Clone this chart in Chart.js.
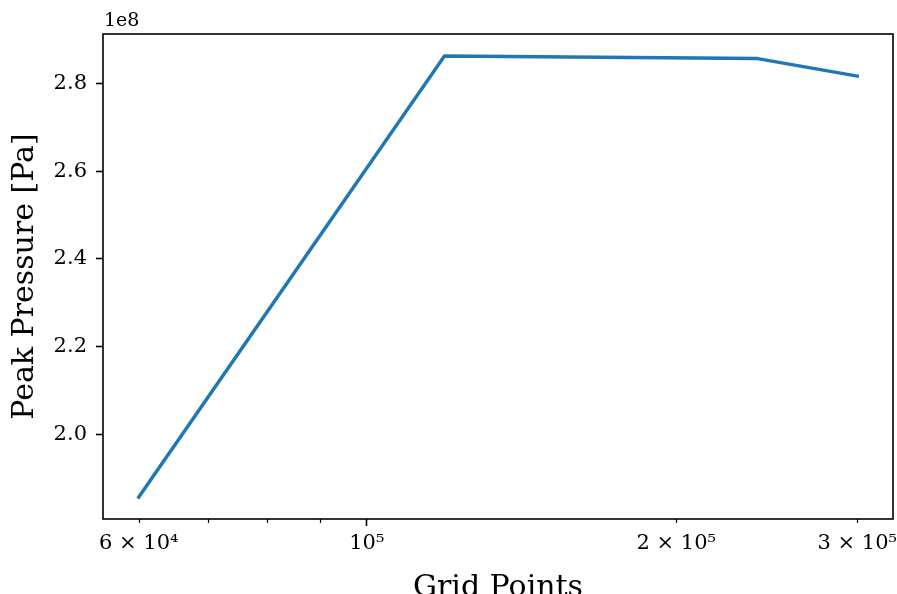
<!DOCTYPE html>
<html>
<head>
<meta charset="utf-8">
<script src="https://cdn.jsdelivr.net/npm/chart.js@4.4.1/dist/chart.umd.min.js"></script>
<style>
  html, body { margin: 0; padding: 0; background: #ffffff; }
  #wrap { width: 897px; height: 594px; overflow: hidden; }
  canvas { display: block; }
</style>
</head>
<body>
<div id="wrap"><canvas id="chart" width="897" height="594"></canvas></div>
<script>
// Grid-convergence study: peak pressure versus number of grid points
const gridPoints = [60000, 119000, 240000, 300000];
const peakPressure = [1.857e8, 2.863e8, 2.857e8, 2.817e8];

// Axis limits and ticks
const xLimits = [55380, 325000];
const yLimits = [1.807e8, 2.913e8];
const xMajorTicks = [100000];
const xMinorTicks = [60000, 70000, 80000, 90000, 200000, 300000];
const xTickLabels = { 60000: '6 × 10⁴', 100000: '10⁵', 200000: '2 × 10⁵', 300000: '3 × 10⁵' };
const yTicks = [2.0e8, 2.2e8, 2.4e8, 2.6e8, 2.8e8];
const yOffsetText = '1e8';
const xTitle = 'Grid Points';
const yTitle = 'Peak Pressure [Pa]';

const FONT = "'DejaVu Serif', 'Liberation Serif', serif";
const INK = '#000000';
const LINE = '#1f77b4';
const SPINE = 1.6;

// Frame, minor ticks and the scientific offset label
const framePlugin = {
  id: 'frame',
  afterDraw(chart) {
    const { ctx, chartArea: a, scales } = chart;
    ctx.save();
    ctx.strokeStyle = INK;
    ctx.lineWidth = SPINE;
    ctx.strokeRect(a.left, a.top, a.right - a.left, a.bottom - a.top);
    // short minor tick marks on the log axis
    ctx.lineWidth = 1.2;
    xMinorTicks.forEach(v => {
      const px = Math.round(scales.x.getPixelForValue(v)) + 0.5;
      ctx.beginPath();
      ctx.moveTo(px, a.bottom);
      ctx.lineTo(px, a.bottom + 4);
      ctx.stroke();
    });
    ctx.fillStyle = INK;
    ctx.font = '19px ' + FONT;
    ctx.textAlign = 'left';
    ctx.textBaseline = 'alphabetic';
    ctx.fillText(yOffsetText, a.left + 1, a.top - 8);
    ctx.restore();
  }
};

const allXTicks = [...xMinorTicks, ...xMajorTicks].sort((a, b) => a - b);

new Chart(document.getElementById('chart'), {
  type: 'line',
  data: {
    datasets: [{
      data: gridPoints.map((g, i) => ({ x: g, y: peakPressure[i] })),
      borderColor: LINE,
      borderWidth: 3.4,
      pointRadius: 0,
      tension: 0,
      fill: false,
      borderCapStyle: 'square',
      borderJoinStyle: 'round'
    }]
  },
  options: {
    responsive: false,
    animation: false,
    devicePixelRatio: 1,
    layout: { padding: { top: 34, right: 4, left: 0, bottom: 0 } },
    plugins: { legend: { display: false }, tooltip: { enabled: false } },
    scales: {
      x: {
        type: 'logarithmic',
        min: xLimits[0],
        max: xLimits[1],
        afterBuildTicks: s => { s.ticks = allXTicks.map(v => ({ value: v, major: xMajorTicks.includes(v) })); },
        afterFit: s => { s.height = 75; s.paddingLeft = 0; s.paddingRight = 0; },
        border: { display: false },
        grid: {
          drawOnChartArea: false,
          drawTicks: true,
          tickLength: 7,
          tickWidth: SPINE,
          tickColor: ctx => (ctx.tick && xMajorTicks.includes(ctx.tick.value)) ? INK : 'rgba(0,0,0,0)'
        },
        ticks: {
          autoSkip: false,
          maxRotation: 0,
          padding: 5,
          color: INK,
          font: { family: FONT, size: 21 },
          callback: v => xTickLabels[v] || ''
        },
        title: {
          display: true,
          text: xTitle,
          color: INK,
          font: { family: FONT, size: 30, lineHeight: 1.2 },
          padding: { top: 0, bottom: -12 }
        }
      },
      y: {
        type: 'linear',
        min: yLimits[0],
        max: yLimits[1],
        afterBuildTicks: s => { s.ticks = yTicks.map(v => ({ value: v })); },
        afterFit: s => { s.width = 103; s.paddingTop = 0; s.paddingBottom = 0; },
        border: { display: false },
        grid: {
          drawOnChartArea: false,
          drawTicks: true,
          tickLength: 7,
          tickWidth: SPINE,
          tickColor: INK
        },
        ticks: {
          padding: 9,
          color: INK,
          font: { family: FONT, size: 21 },
          callback: v => (v / 1e8).toFixed(1)
        },
        title: {
          display: true,
          text: yTitle,
          color: INK,
          font: { family: FONT, size: 30, lineHeight: 1.2 },
          padding: { top: 7, bottom: 0 }
        }
      }
    }
  },
  plugins: [framePlugin]
});
</script>
</body>
</html>
